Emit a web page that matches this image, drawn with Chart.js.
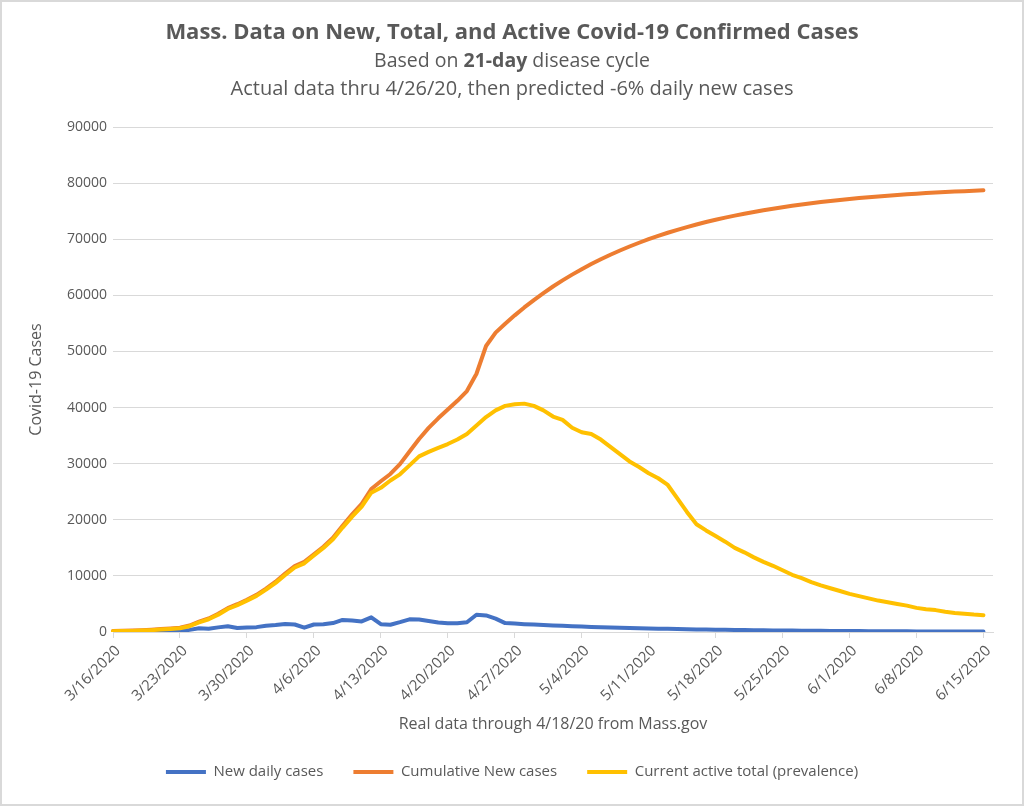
<!DOCTYPE html>
<html>
<head>
<meta charset="utf-8">
<title>Mass. Covid-19 cases</title>
<script src="https://cdn.jsdelivr.net/npm/chart.js@4.4.0/dist/chart.umd.min.js"></script>
<style>
  html, body { margin: 0; padding: 0; background: #fff; }
  canvas { display: block; }
</style>
</head>
<body>
<canvas id="covid" width="1024" height="806"></canvas>
<script>
// daily categories, 3/16/2020 .. 6/16/2020 (the date axis runs one day past the data)
const dates = [
  "3/16/2020", "3/17/2020", "3/18/2020", "3/19/2020", "3/20/2020", "3/21/2020", "3/22/2020", "3/23/2020",
  "3/24/2020", "3/25/2020", "3/26/2020", "3/27/2020", "3/28/2020", "3/29/2020", "3/30/2020", "3/31/2020",
  "4/1/2020", "4/2/2020", "4/3/2020", "4/4/2020", "4/5/2020", "4/6/2020", "4/7/2020", "4/8/2020",
  "4/9/2020", "4/10/2020", "4/11/2020", "4/12/2020", "4/13/2020", "4/14/2020", "4/15/2020", "4/16/2020",
  "4/17/2020", "4/18/2020", "4/19/2020", "4/20/2020", "4/21/2020", "4/22/2020", "4/23/2020", "4/24/2020",
  "4/25/2020", "4/26/2020", "4/27/2020", "4/28/2020", "4/29/2020", "4/30/2020", "5/1/2020", "5/2/2020",
  "5/3/2020", "5/4/2020", "5/5/2020", "5/6/2020", "5/7/2020", "5/8/2020", "5/9/2020", "5/10/2020",
  "5/11/2020", "5/12/2020", "5/13/2020", "5/14/2020", "5/15/2020", "5/16/2020", "5/17/2020", "5/18/2020",
  "5/19/2020", "5/20/2020", "5/21/2020", "5/22/2020", "5/23/2020", "5/24/2020", "5/25/2020", "5/26/2020",
  "5/27/2020", "5/28/2020", "5/29/2020", "5/30/2020", "5/31/2020", "6/1/2020", "6/2/2020", "6/3/2020",
  "6/4/2020", "6/5/2020", "6/6/2020", "6/7/2020", "6/8/2020", "6/9/2020", "6/10/2020", "6/11/2020",
  "6/12/2020", "6/13/2020", "6/14/2020", "6/15/2020", "6/16/2020"
];

const newDaily = [
  30, 21, 38, 72, 85, 112, 121, 131, 382, 679, 579, 823, 1017, 698, 797,
  868, 1118, 1228, 1436, 1334, 764, 1337, 1365, 1588, 2151, 2033, 1886, 2615,
  1392, 1296, 1755, 2263, 2221, 1970, 1705, 1566, 1556, 1745, 3079, 2950, 2379, 1590,
  1500, 1400, 1320, 1240, 1170, 1100, 1030, 970, 910, 860,
  800, 760, 710, 670, 630, 590, 560, 520, 490, 460,
  430, 410, 380, 360, 340, 320, 300, 280, 260, 250,
  230, 220, 210, 190, 180, 170, 160, 150, 140, 130,
  130, 120, 110, 100, 100, 90, 90, 80, 80, 70
];

const cumulative = [
  197, 218, 256, 328, 413, 525, 646, 777, 1159, 1838, 2417, 3240, 4257, 4955, 5752,
  6620, 7738, 8966, 10402, 11736, 12500, 13837, 15202, 16790, 18941, 20974, 22860, 25475,
  26867, 28163, 29918, 32181, 34402, 36372, 38077, 39643, 41199, 42944, 46023, 50969, 53348, 54938,
  56430, 57840, 59160, 60400, 61570, 62660, 63690, 64660, 65570, 66430,
  67240, 67990, 68700, 69370, 70000, 70590, 71150, 71670, 72160, 72620,
  73060, 73460, 73850, 74210, 74550, 74860, 75160, 75440, 75710, 75960,
  76190, 76410, 76620, 76810, 76990, 77170, 77330, 77480, 77620, 77760,
  77880, 78000, 78110, 78220, 78310, 78410, 78490, 78570, 78650, 78720
];

const active = [
  150, 170, 200, 260, 330, 430, 540, 660, 1030, 1700, 2270, 3090, 4100, 4790, 5590,
  6440, 7540, 8750, 10160, 11500, 12240, 13640, 14980, 16530, 18610, 20560, 22330, 24830,
  25700, 27000, 28100, 29700, 31300, 32100, 32800, 33500, 34300, 35300, 36800, 38300, 39500, 40300,
  40600, 40700, 40300, 39500, 38400, 37800, 36400, 35600, 35300, 34300,
  33000, 31700, 30400, 29400, 28300, 27400, 26200, 23800, 21400, 19200,
  18100, 17100, 16100, 15000, 14200, 13300, 12500, 11800, 11000, 10200,
  9600, 8900, 8300, 7800, 7300, 6800, 6400, 6000, 5600, 5300,
  5000, 4700, 4300, 4050, 3900, 3600, 3400, 3250, 3100, 3000
];

const seriesNames = ["New daily cases", "Cumulative New cases", "Current active total (prevalence)"];
const seriesColors = ["#4472C4", "#ED7D31", "#FFC000"];

const titleText = "Mass. Data on New, Total, and Active Covid-19 Confirmed Cases";
const subtitleParts = ["Based on ", "21-day", " disease cycle"];
const subtitle2 = "Actual data thru 4/26/20, then predicted -6% daily new cases";

const FONT = '"Open Sans", sans-serif';
const TEXT = "#595959";
const GRID = "#D9D9D9";

Chart.defaults.font.family = FONT;
Chart.defaults.color = TEXT;

// white background, frame and the three header lines
const header = {
  id: "header",
  beforeDraw(chart) {
    const ctx = chart.ctx;
    ctx.save();
    ctx.fillStyle = "#fff";
    ctx.fillRect(0, 0, chart.width, chart.height);
    ctx.restore();
  },
  afterDraw(chart) {
    const ctx = chart.ctx;
    const cx = chart.width / 2;
    ctx.save();
    ctx.fillStyle = TEXT;
    ctx.textBaseline = "middle";

    ctx.textAlign = "center";
    ctx.font = "bold 22px " + FONT;
    ctx.fillText(titleText, cx, 33);

    // second line has a bold piece in the middle
    const fonts = ["19.5px " + FONT, "bold 19.5px " + FONT, "19.5px " + FONT];
    let total = 0;
    const widths = subtitleParts.map((t, i) => {
      ctx.font = fonts[i];
      const w = ctx.measureText(t).width;
      total += w;
      return w;
    });
    ctx.textAlign = "left";
    let x = cx - total / 2;
    subtitleParts.forEach((t, i) => {
      ctx.font = fonts[i];
      ctx.fillText(t, x, 61);
      x += widths[i];
    });

    ctx.textAlign = "center";
    ctx.font = "20px " + FONT;
    ctx.fillText(subtitle2, cx, 89);

    ctx.strokeStyle = GRID;
    ctx.lineWidth = 2;
    ctx.strokeRect(1, 1, chart.width - 2, chart.height - 2);
    ctx.restore();
  }
};

const lineSet = (i, data, order) => ({
  label: seriesNames[i],
  data,
  borderColor: seriesColors[i],
  backgroundColor: seriesColors[i],
  borderWidth: 4,
  borderCapStyle: "round",
  borderJoinStyle: "round",
  pointRadius: 0,
  tension: 0,
  fill: false,
  order
});

new Chart(document.getElementById("covid"), {
  type: "line",
  data: {
    labels: dates,
    datasets: [
      lineSet(0, newDaily, 2),
      lineSet(1, cumulative, 1),
      lineSet(2, active, 0)
    ]
  },
  options: {
    responsive: false,
    animation: false,
    layout: { padding: { top: 127, right: 31, bottom: 16.5, left: 31 } },
    plugins: {
      title: { display: false },
      tooltip: { enabled: false },
      legend: {
        position: "bottom",
        labels: {
          usePointStyle: true,
          pointStyle: "line",
          pointStyleWidth: 40,
          padding: 30,
          color: TEXT,
          font: { size: 15 },
          sort: (a, b) => a.datasetIndex - b.datasetIndex
        }
      }
    },
    scales: {
      x: {
        grid: { drawOnChartArea: false, drawTicks: true, tickLength: 6, color: GRID },
        border: { color: GRID },
        ticks: {
          autoSkip: false,
          minRotation: 45,
          maxRotation: 45,
          padding: 4,
          labelOffset: 5,
          color: TEXT,
          font: { size: 15 },
          callback(value, index) {
            return index % 7 === 0 ? this.getLabelForValue(value) : null;
          }
        },
        title: {
          display: true,
          text: "Real data through 4/18/20 from Mass.gov",
          color: TEXT,
          font: { size: 16 },
          padding: { top: 0, bottom: 0 }
        },
        afterFit(scale) {
          scale.height = 806 - 632 - scale.chart.legend.height - 16.5;
        }
      },
      y: {
        min: 0,
        max: 90000,
        ticks: {
          stepSize: 10000,
          padding: 6,
          color: TEXT,
          font: { size: 14 },
          callback: (v) => String(v)
        },
        grid: { color: GRID, drawTicks: false },
        border: { display: false },
        title: {
          display: true,
          text: "Covid-19 Cases",
          color: TEXT,
          font: { size: 16 },
          padding: { top: -4, bottom: 0 }
        },
        afterFit(scale) {
          scale.width = 82;
        }
      }
    }
  },
  plugins: [header]
});
</script>
</body>
</html>
